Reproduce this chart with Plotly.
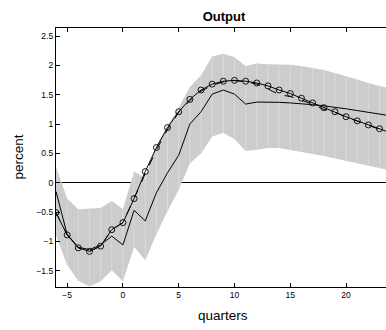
import plotly.graph_objects as go

quarters = list(range(-6, 25))

model = [-0.51, -0.89, -1.11, -1.17, -1.08, -0.80, -0.68, -0.27, 0.19, 0.60,
         0.94, 1.21, 1.42, 1.58, 1.68, 1.73, 1.745, 1.73, 1.70, 1.65,
         1.58, 1.52, 1.44, 1.36, 1.28, 1.21, 1.125, 1.055, 0.985, 0.92, 0.85]

model_alt = [-0.51, -0.89, -1.11, -1.17, -1.08, -0.80, -0.68, -0.28, 0.15, 0.56,
             0.91, 1.20, 1.40, 1.56, 1.66, 1.72, 1.74, 1.72, 1.68, 1.60,
             1.50, 1.47, 1.41, 1.34, 1.25, 1.20, 1.12, 1.05, 0.98, 0.91, 0.84]

median = [-0.15, -0.88, -1.10, -1.14, -1.06, -0.91, -1.06, -0.47, -0.65, -0.17,
          0.17, 0.47, 1.00, 1.21, 1.51, 1.58, 1.51, 1.34, 1.375, 1.375,
          1.37, 1.36, 1.35, 1.33, 1.31, 1.29, 1.26, 1.23, 1.20, 1.17, 1.14]

upper = [0.27, -0.27, -0.45, -0.44, -0.43, -0.31, -0.45, 0.19, 0.08, 0.63,
         0.97, 1.28, 1.63, 1.83, 2.15, 2.20, 2.14, 1.99, 2.03, 2.02,
         2.02, 2.01, 1.99, 1.96, 1.92, 1.87, 1.82, 1.76, 1.70, 1.65, 1.60]

lower = [-0.90, -1.40, -1.67, -1.77, -1.68, -1.49, -1.68, -1.09, -1.32, -0.88,
         -0.48, -0.12, 0.33, 0.50, 0.79, 0.85, 0.74, 0.54, 0.56, 0.59,
         0.59, 0.56, 0.53, 0.49, 0.455, 0.415, 0.375, 0.33, 0.29, 0.25, 0.21]

x_ticks = [-5, 0, 5, 10, 15, 20]
y_ticks = [-1.5, -1, -0.5, 0, 0.5, 1, 1.5, 2, 2.5]

FONT = "Liberation Sans, Arial, sans-serif"

fig = go.Figure()

fig.add_trace(go.Scatter(x=quarters, y=lower, mode="lines", line=dict(width=0),
                         hoverinfo="skip", showlegend=False))
fig.add_trace(go.Scatter(x=quarters, y=upper, mode="lines", line=dict(width=0),
                         fill="tonexty", fillcolor="#cccccc",
                         hoverinfo="skip", showlegend=False))

# light seams between band segments
sx, sy = [], []
for q, lo, hi in zip(quarters, lower, upper):
    sx += [q, q, None]
    sy += [lo, hi, None]
fig.add_trace(go.Scatter(x=sx, y=sy, mode="lines",
                         line=dict(color="#dadada", width=1),
                         hoverinfo="skip", showlegend=False))

fig.add_trace(go.Scatter(x=quarters, y=median, mode="lines",
                         line=dict(color="black", width=1), showlegend=False))
fig.add_trace(go.Scatter(x=quarters, y=model_alt, mode="lines",
                         line=dict(color="black", width=1, dash="dash"),
                         showlegend=False))
fig.add_trace(go.Scatter(x=quarters, y=model, mode="lines+markers",
                         line=dict(color="black", width=1),
                         marker=dict(symbol="circle-open", size=6, color="black",
                                     line=dict(width=0.9, color="black")),
                         showlegend=False))

fig.update_layout(
    width=386, height=330,
    margin=dict(l=56, r=0, t=28, b=43),
    paper_bgcolor="white", plot_bgcolor="white",
    font=dict(family=FONT, color="black", size=8.5),
    title=dict(text="Output", x=(224 - 56) / 330, xref="paper", xanchor="center",
               y=1 - 16 / 330, yref="container", yanchor="middle",
               font=dict(family=FONT, size=13, weight="bold", color="black")),
    xaxis=dict(range=[-6, 23.58], tickvals=x_ticks, ticks="inside", ticklen=4,
               tickcolor="black", showline=True, linecolor="black", linewidth=1.2,
               mirror="ticks", showgrid=False, zeroline=False,
               tickfont=dict(family=FONT, size=8.5, color="black")),
    yaxis=dict(range=[-1.777, 2.637], tickvals=y_ticks, ticks="inside", ticklen=4,
               tickcolor="black", showline=True, linecolor="black", linewidth=1.2,
               showgrid=False, zeroline=True, zerolinecolor="black", zerolinewidth=1,
               tickfont=dict(family=FONT, size=8.5, color="black")),
    annotations=[
        dict(text="quarters", xref="paper", yref="paper", x=(223 - 56) / 330,
             y=(287 - 315) / 259, xanchor="center", yanchor="middle", showarrow=False,
             font=dict(family=FONT, size=13.5, color="black")),
        dict(text="percent", xref="paper", yref="paper", x=(18 - 56) / 330,
             y=0.5, xanchor="center", yanchor="middle", showarrow=False,
             textangle=-90, font=dict(family=FONT, size=13.5, color="black")),
    ],
)

fig.write_html("out.html")
